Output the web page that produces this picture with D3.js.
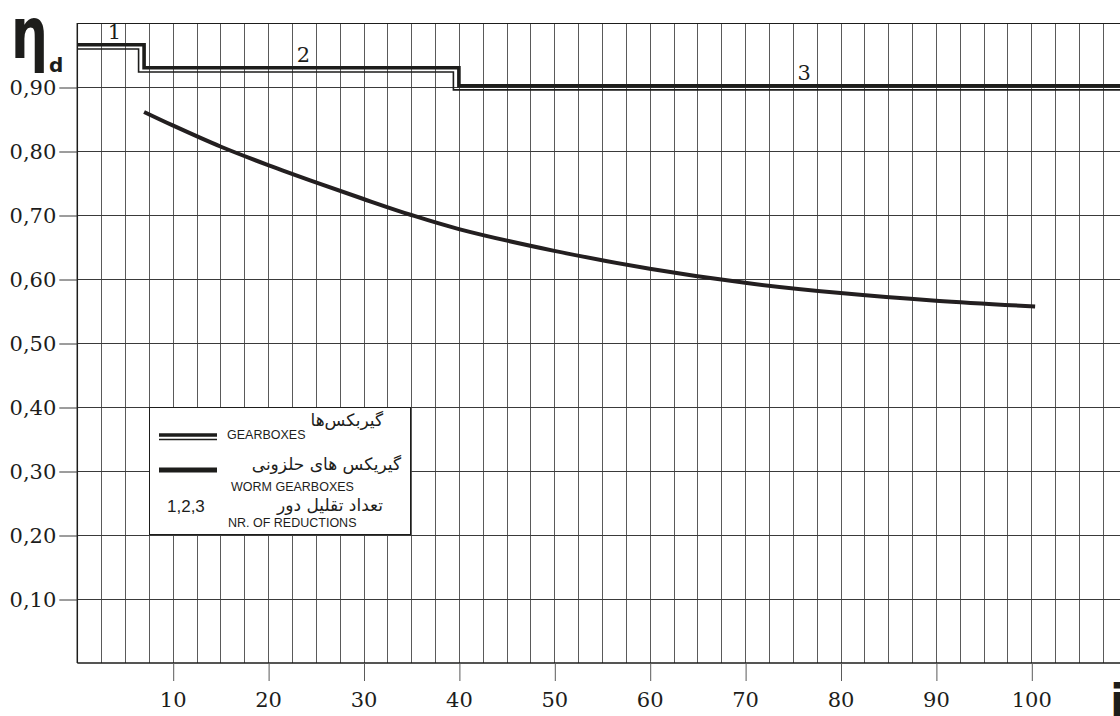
<!DOCTYPE html>
<html><head><meta charset="utf-8">
<script src="https://cdn.jsdelivr.net/npm/d3@7"></script>
<style>html,body{margin:0;padding:0;background:#fff;}svg{display:block;}</style>
</head><body>
<svg id="chart" width="1120" height="716"></svg>
<script>
// ---- data ----
const yTicks = [0.1,0.2,0.3,0.4,0.5,0.6,0.7,0.8,0.9];
const xTicks = [10,20,30,40,50,60,70,80,90,100];
// gearboxes: step boundaries (ratio i) and efficiency for each step
const gearBreaks = [0, 7, 40, 115];
const gearEta = [0.966, 0.930, 0.902];
const gearLabels = ["1","2","3"];
const gearLabelX = [3.9, 23.7, 76.2];
// worm gearboxes curve
const wormI   = [7, 10, 15, 20, 25, 30, 35, 40, 50, 60, 70, 80, 90, 100.4];
const wormEta = [0.861, 0.840, 0.807, 0.778, 0.751, 0.725, 0.700, 0.678, 0.644, 0.616, 0.594, 0.578, 0.566, 0.557];
const legendFa = ["گیربکس‌ها", "گیریکس های حلزونی", "تعداد تقلیل دور"];
const legendEn = ["GEARBOXES", "WORM GEARBOXES", "NR. OF REDUCTIONS"];
const legendNum = "1,2,3";

// ---- scales ----
const svg = d3.select("#chart");
const x = d3.scaleLinear().domain([0,100]).range([77.3,1031.3]);
const y = d3.scaleLinear().domain([0,1]).range([663,23]);
const W = 1120;
const serif = "'DejaVu Serif', serif";
const ink = "#1d1d1b";

// vertical grid
const vgrid = d3.range(2.5, 110, 2.5);
svg.append("g").selectAll("line").data(vgrid).join("line")
  .attr("x1", d=>Math.round(x(d))+0.5).attr("x2", d=>Math.round(x(d))+0.5)
  .attr("y1", y(1)).attr("y2", y(0))
  .attr("stroke", "#5a5a5a").attr("stroke-width", 1);
// horizontal grid
svg.append("g").selectAll("line").data(yTicks).join("line")
  .attr("x1", x(0)).attr("x2", W)
  .attr("y1", d=>Math.round(y(d))+0.5).attr("y2", d=>Math.round(y(d))+0.5)
  .attr("stroke", "#3a3a3a").attr("stroke-width", 1);
// frame lines
svg.append("line").attr("x1", x(0)).attr("x2", W).attr("y1", Math.round(y(1))+0.5).attr("y2", Math.round(y(1))+0.5).attr("stroke", ink).attr("stroke-width",1.2);
svg.append("line").attr("x1", x(0)).attr("x2", W).attr("y1", y(0)).attr("y2", y(0)).attr("stroke", ink).attr("stroke-width",1.5);
svg.append("line").attr("x1", x(0)).attr("x2", x(0)).attr("y1", y(1)).attr("y2", y(0)).attr("stroke", ink).attr("stroke-width",1.5);

// axes
const fmt = d => d3.format(".2f")(d).replace(".", ",");
const yAxis = svg.append("g").attr("transform", `translate(${x(0)},0)`)
  .call(d3.axisLeft(y).tickValues(yTicks).tickSize(18).tickPadding(3).tickFormat(fmt));
yAxis.select(".domain").remove();
yAxis.selectAll("line").attr("stroke", "#3a3a3a").attr("transform","translate(0,0.5)");
yAxis.selectAll("text").attr("font-family", serif).attr("font-size", 21).attr("fill", ink).attr("dy","0.36em");

const xAxis = svg.append("g").attr("transform", `translate(0,${y(0)})`)
  .call(d3.axisBottom(x).tickValues(xTicks).tickSize(18).tickPadding(11).tickFormat(d3.format("d")));
xAxis.select(".domain").remove();
xAxis.selectAll("line").attr("stroke", "#5a5a5a").attr("transform","translate(0.5,0)");
xAxis.selectAll("text").attr("font-family", serif).attr("font-size", 21).attr("fill", ink);

// gearbox step lines (double line)
const gearPts = [];
gearEta.forEach((e,k) => { gearPts.push([gearBreaks[k], e]); gearPts.push([gearBreaks[k+1], e]); });
const stepLine = d3.line().x(d=>x(d[0])).y(d=>y(d[1]));
svg.append("clipPath").attr("id","plotclip").append("rect")
  .attr("x", x(0)).attr("y", 0).attr("width", W - x(0)).attr("height", y(0));
svg.append("g").attr("clip-path","url(#plotclip)")
  .append("path").datum(gearPts).attr("d", stepLine)
  .attr("fill","none").attr("stroke", ink).attr("stroke-width",1.6)
  .attr("transform","translate(-5.5,4.2)");
svg.append("path").datum(gearPts).attr("d", stepLine)
  .attr("fill","none").attr("stroke", ink).attr("stroke-width",3.6);
svg.append("g").selectAll("text").data(gearLabels).join("text")
  .attr("x", (d,k)=>x(gearLabelX[k])).attr("y", (d,k)=>y(gearEta[k]) - 6)
  .attr("text-anchor","middle").attr("font-family", serif).attr("font-size", 21).attr("fill", ink)
  .text(d=>d);

// worm curve
const wormData = wormI.map((v,k)=>[v, wormEta[k]]);
svg.append("path").datum(wormData)
  .attr("d", d3.line().x(d=>x(d[0])).y(d=>y(d[1])).curve(d3.curveCatmullRom))
  .attr("fill","none").attr("stroke", "#231f20").attr("stroke-width",4);

// legend
const lg = svg.append("g");
lg.append("rect").attr("x",149.5).attr("y",407.5).attr("width",261).attr("height",127)
  .attr("fill","#fff").attr("stroke", ink).attr("stroke-width",1);
lg.append("line").attr("x1",159).attr("x2",217).attr("y1",435).attr("y2",435).attr("stroke",ink).attr("stroke-width",3.6);
lg.append("line").attr("x1",159).attr("x2",217).attr("y1",439.5).attr("y2",439.5).attr("stroke",ink).attr("stroke-width",1.6);
lg.append("line").attr("x1",159).attr("x2",217).attr("y1",470).attr("y2",470).attr("stroke",ink).attr("stroke-width",5);
const sans = "'Liberation Sans', Arial, sans-serif";
const fa = "'DejaVu Sans', 'Noto Sans', sans-serif";
lg.append("text").attr("x",227).attr("y",439).attr("font-family",sans).attr("font-size",12.5).attr("fill",ink).text(legendEn[0]);
lg.append("text").attr("x",231).attr("y",491).attr("font-family",sans).attr("font-size",12.5).attr("fill",ink).text(legendEn[1]);
lg.append("text").attr("x",228).attr("y",527).attr("font-family",sans).attr("font-size",12.5).attr("fill",ink).text(legendEn[2]);
lg.append("text").attr("x",167).attr("y",511.5).attr("font-family",sans).attr("font-size",17).attr("fill",ink).text(legendNum);
const faX = [383, 401, 383], faY = [426, 470, 510.5];
lg.selectAll("text.fa").data(legendFa).join("text").attr("class","fa")
  .attr("x",(d,k)=>faX[k]).attr("y",(d,k)=>faY[k])
  .attr("direction","rtl").attr("text-anchor","start")
  .attr("font-family",fa).attr("font-size",17).attr("fill",ink).text(d=>d);

// axis symbols
svg.append("text").attr("transform","translate(11,58) scale(0.72,1)")
  .attr("font-family","'DejaVu Sans', sans-serif").attr("font-weight","bold").attr("font-size",72).attr("fill",ink).text("η");
svg.append("text").attr("x",49).attr("y",72).attr("font-family","'DejaVu Sans', sans-serif").attr("font-weight","bold").attr("font-size",20).attr("fill",ink).text("d");
svg.append("text").attr("x",1110).attr("y",716).attr("font-family","'DejaVu Sans', sans-serif").attr("font-weight","bold").attr("font-size",44).attr("fill",ink).text("i");
</script>
</body></html>
